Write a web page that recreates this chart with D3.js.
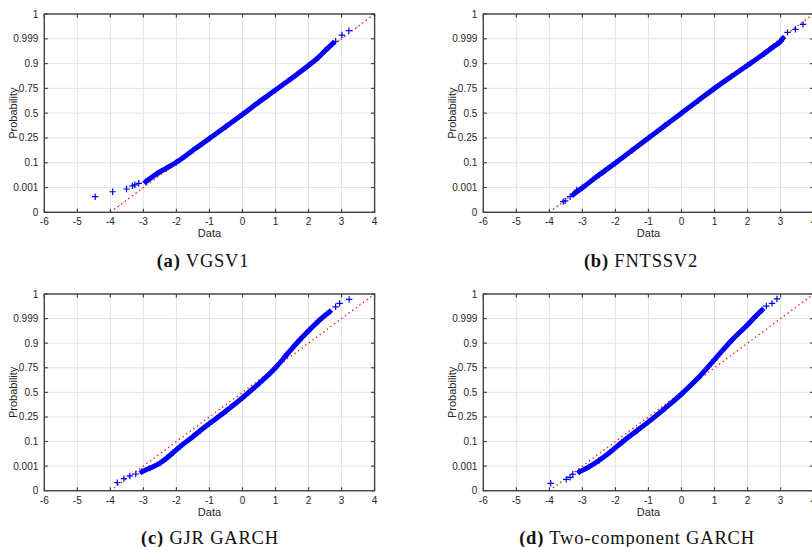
<!DOCTYPE html>
<html><head><meta charset="utf-8">
<script src="https://cdn.jsdelivr.net/npm/d3@7"></script>
<style>body{margin:0;background:#fff;overflow:hidden} svg{display:block}</style>
</head><body>
<svg id="chart" width="812" height="547"></svg>
<script>
// ---- data ----
const xTicks = [-6, -5, -4, -3, -2, -1, 0, 1, 2, 3, 4];
const yTickLabels = ["0", "0.001", "0.1", "0.25", "0.5", "0.75", "0.9", "0.999", "1"];
const refLine = [[-4, 0], [4, 8]];
const panelTags = ["(a)", "(b)", "(c)", "(d)"];
const panelNames = ["VGSV1", "FNTSSV2", "GJR GARCH", "Two-component GARCH"];

// dense part of each sample (x = data, y = probability tick position)
const bandA = [[-2.93,1.23],[-2.6,1.55],[-2.3,1.78],[-2.0,2.02],[-1.5,2.5],[-1.0,2.98],[-0.5,3.46],[0,3.95],[0.5,4.45],[1.0,4.93],[1.5,5.42],[2.0,5.92],[2.3,6.25],[2.5,6.52],[2.74,6.82]];
const tailA = [[-4.46,0.63],[-3.93,0.83],[-3.51,0.94],[-3.33,1.07],[-3.26,1.11],[-3.14,1.17],[2.82,6.9],[3.01,7.15],[3.22,7.33]];

const bandB = [[-3.27,0.72],[-3.0,0.99],[-2.5,1.5],[-2.0,1.99],[-1.5,2.49],[-1.0,3.0],[-0.5,3.5],[0,4.0],[0.5,4.5],[1.0,5.0],[1.5,5.47],[2.0,5.93],[2.5,6.4],[2.8,6.7],[3.0,6.9],[3.07,7.02]];
const tailB = [[-3.58,0.43],[-3.52,0.46],[-3.37,0.63],[-3.17,0.9],[3.21,7.26],[3.45,7.38],[3.68,7.58]];

const bandC = [[-3.05,0.77],[-2.8,0.92],[-2.5,1.12],[-2.3,1.32],[-2.1,1.55],[-1.9,1.78],[-1.5,2.2],[-1.29,2.43],[-1.0,2.73],[-0.5,3.24],[0,3.78],[0.5,4.36],[1.0,5.0],[1.35,5.55],[1.73,6.13],[2.0,6.5],[2.3,6.9],[2.64,7.28]];
const tailC = [[-3.79,0.33],[-3.59,0.49],[-3.41,0.6],[-3.23,0.68],[2.82,7.48],[2.94,7.62],[3.23,7.78]];

const bandD = [[-3.09,0.77],[-2.8,0.97],[-2.5,1.23],[-2.16,1.57],[-1.8,1.97],[-1.35,2.44],[-1.0,2.8],[-0.5,3.35],[0,3.93],[0.5,4.58],[1.0,5.33],[1.53,6.13],[2.0,6.75],[2.2,7.03],[2.44,7.35]];
const tailD = [[-3.96,0.3],[-3.49,0.46],[-3.37,0.54],[-3.29,0.67],[2.57,7.51],[2.74,7.62],[2.89,7.8]];

const bands = [bandA, bandB, bandC, bandD];
const tails = [tailA, tailB, tailC, tailD];

// ---- layout ----
const layout = [
  {left: 44.3, top: 14, w: 330.3, h: 198.3, capX: 203, capY: 267},
  {left: 483.3, top: 14, w: 330.3, h: 198.3, capX: 641, capY: 267},
  {left: 44.3, top: 294, w: 330.3, h: 196.7, capX: 210, capY: 544},
  {left: 483.3, top: 294, w: 330.3, h: 196.7, capX: 637, capY: 544}
];

const svg = d3.select("#chart");
const axisCol = "#262626";
const sans = "'Liberation Sans', Arial, Helvetica, sans-serif";

layout.forEach((L, i) => {
  const g = svg.append("g").attr("transform", `translate(${L.left},${L.top})`);
  const x = d3.scaleLinear().domain([xTicks[0], xTicks[xTicks.length-1]]).range([0, L.w]);
  const y = d3.scaleLinear().domain([0, yTickLabels.length - 1]).range([L.h, 0]);
  const yIdx = d3.range(yTickLabels.length);

  // grid
  g.append("g").selectAll("line").data(xTicks).join("line")
    .attr("x1", d => x(d)).attr("x2", d => x(d)).attr("y1", 0).attr("y2", L.h)
    .attr("stroke", "#e3e3e3").attr("stroke-width", 1);
  g.append("g").selectAll("line").data(yIdx).join("line")
    .attr("y1", d => y(d)).attr("y2", d => y(d)).attr("x1", 0).attr("x2", L.w)
    .attr("stroke", "#e3e3e3").attr("stroke-width", 1);

  // reference line
  g.append("line")
    .attr("x1", x(refLine[0][0])).attr("y1", y(refLine[0][1]))
    .attr("x2", x(refLine[1][0])).attr("y2", y(refLine[1][1]))
    .attr("stroke", "#ff0000").attr("stroke-width", 1.3)
    .attr("stroke-dasharray", "1.3,3.2");

  // dense band
  const line = d3.line().x(d => x(d[0])).y(d => y(d[1])).curve(d3.curveMonotoneX);
  g.append("path").datum(bands[i]).attr("d", line)
    .attr("fill", "none").attr("stroke", "#0000ff").attr("stroke-width", 5)
    .attr("stroke-linecap", "round");

  // reference line on top of band (partially visible dots)
  g.append("line")
    .attr("x1", x(refLine[0][0])).attr("y1", y(refLine[0][1]))
    .attr("x2", x(refLine[1][0])).attr("y2", y(refLine[1][1]))
    .attr("stroke", "#ff0000").attr("stroke-width", 1)
    .attr("stroke-dasharray", "1,4.5").attr("opacity", i < 2 ? 0.7 : 0);

  // plus markers
  const pts = bands[i].concat(tails[i]);
  const m = 3.2;
  g.append("g").selectAll("path").data(pts).join("path")
    .attr("d", d => `M${x(d[0])-m},${y(d[1])}H${x(d[0])+m}M${x(d[0])},${y(d[1])-m}V${y(d[1])+m}`)
    .attr("stroke", "#0000ff").attr("stroke-width", 1.2).attr("fill", "none");

  // axes box
  g.append("rect").attr("x", 0).attr("y", 0).attr("width", L.w).attr("height", L.h)
    .attr("fill", "none").attr("stroke", "#444").attr("stroke-width", 1.4);

  // ticks (inward, all sides)
  const tl = 3.5;
  const tg = g.append("g").attr("stroke", "#444").attr("stroke-width", 1.2);
  xTicks.forEach(t => {
    tg.append("line").attr("x1", x(t)).attr("x2", x(t)).attr("y1", L.h).attr("y2", L.h - tl);
    tg.append("line").attr("x1", x(t)).attr("x2", x(t)).attr("y1", 0).attr("y2", tl);
  });
  yIdx.forEach(t => {
    tg.append("line").attr("y1", y(t)).attr("y2", y(t)).attr("x1", 0).attr("x2", tl);
    tg.append("line").attr("y1", y(t)).attr("y2", y(t)).attr("x1", L.w).attr("x2", L.w - tl);
  });

  // tick labels
  g.append("g").selectAll("text").data(xTicks).join("text")
    .attr("x", d => x(d)).attr("y", L.h + 13)
    .attr("text-anchor", "middle").attr("font-family", sans).attr("font-size", 10)
    .attr("fill", axisCol).text(d => d);
  g.append("g").selectAll("text").data(yIdx).join("text")
    .attr("x", -6).attr("y", d => y(d) + 3.5)
    .attr("text-anchor", "end").attr("font-family", sans).attr("font-size", 10)
    .attr("fill", axisCol).text(d => yTickLabels[d]);

  // axis titles
  g.append("text").attr("x", x(-1)).attr("y", L.h + 25)
    .attr("text-anchor", "middle").attr("font-family", sans).attr("font-size", 11)
    .attr("fill", axisCol).text("Data");
  g.append("text").attr("transform", `translate(-27,${L.h/2}) rotate(-90)`)
    .attr("text-anchor", "middle").attr("font-family", sans).attr("font-size", 11)
    .attr("fill", axisCol).text("Probability");

  // caption
  const cap = svg.append("text").attr("x", L.capX).attr("y", L.capY)
    .attr("text-anchor", "middle").attr("font-family", "'Liberation Serif', 'DejaVu Serif', serif")
    .attr("font-size", 18.5).attr("letter-spacing", 0.8).attr("fill", "#111");
  cap.append("tspan").attr("font-weight", "bold").text(panelTags[i]);
  cap.append("tspan").text(" " + panelNames[i]);
});
</script>
</body></html>
